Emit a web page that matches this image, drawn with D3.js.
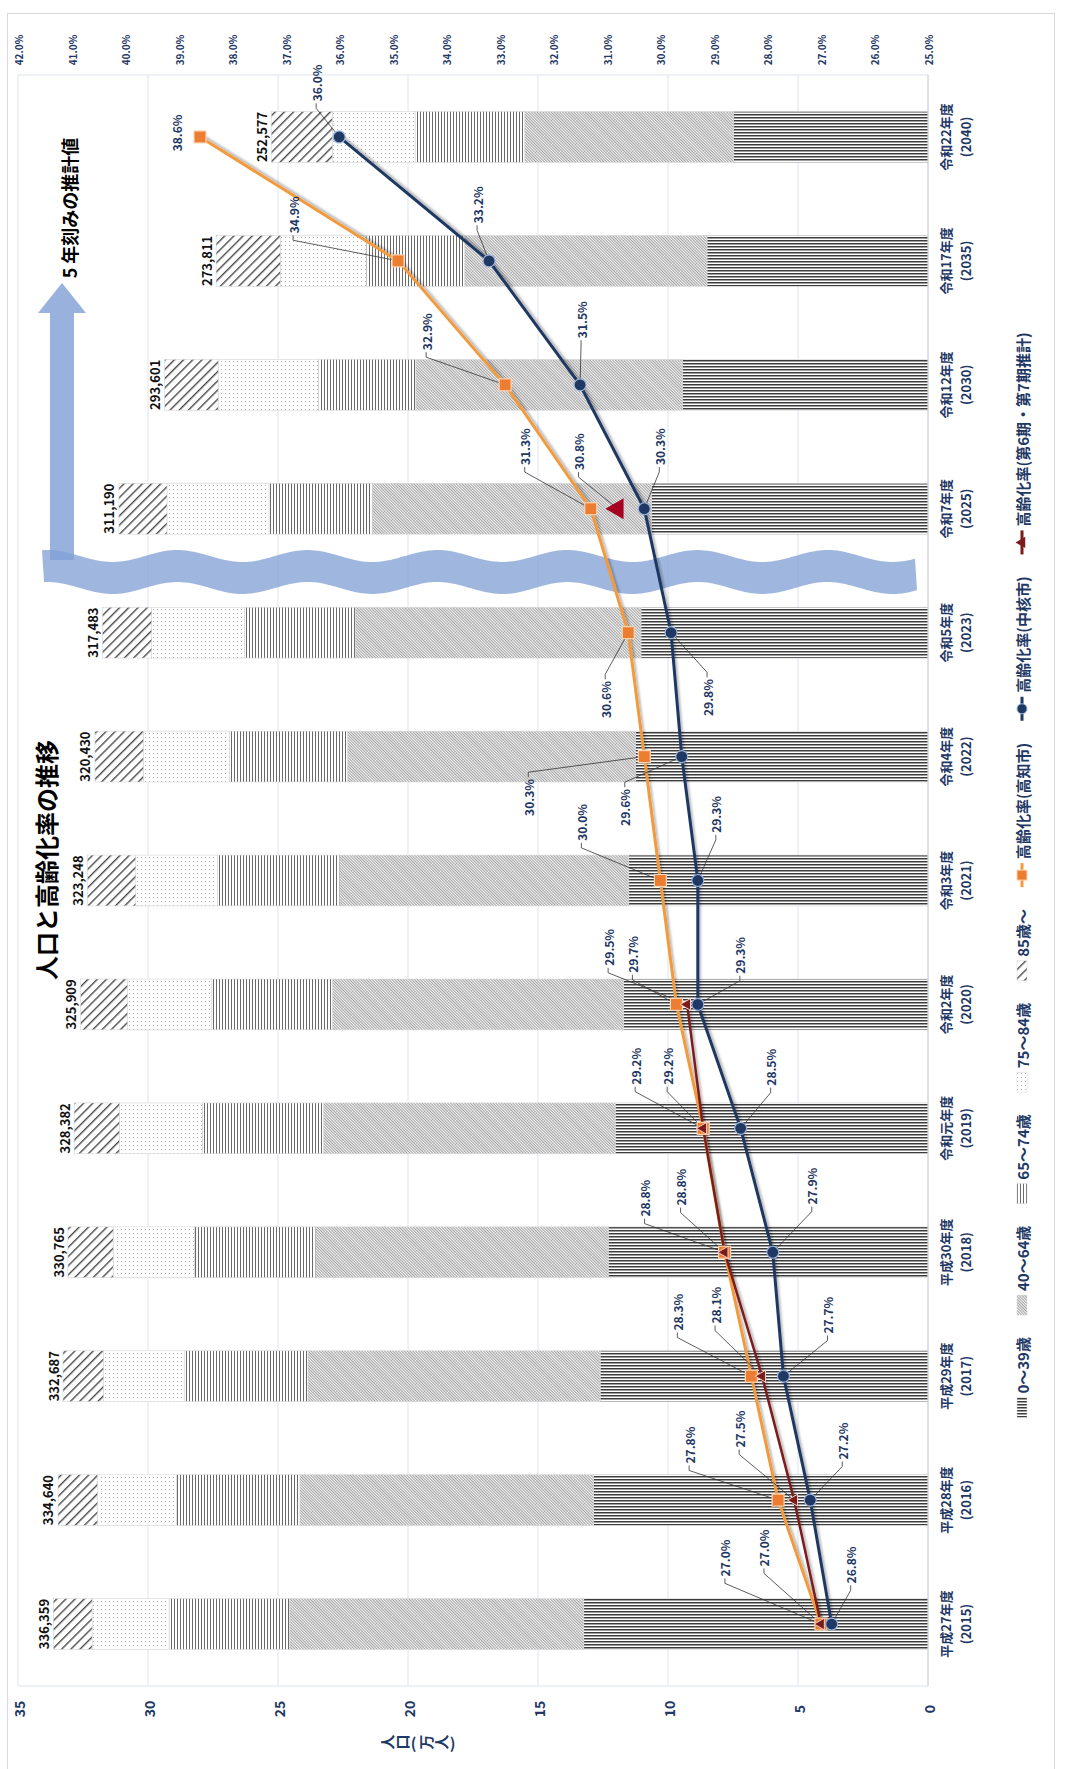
<!DOCTYPE html>
<html>
<head>
<meta charset="utf-8">
<script src="https://cdn.jsdelivr.net/npm/d3@7"></script>
<style>
  body { margin: 0; background: #fff; }
  svg { display: block; }
  text { font-family: "Noto Sans CJK JP", "Noto Sans", sans-serif; }
</style>
</head>
<body>
<div id="chart"></div>
<script>
// ---- data (population in 万人, rates in %) ----
const years = ["2015","2016","2017","2018","2019","2020","2021","2022","2023","2025","2030","2035","2040"];
const eraLabels = ["平成27年度","平成28年度","平成29年度","平成30年度","令和元年度","令和2年度","令和3年度","令和4年度","令和5年度","令和7年度","令和12年度","令和17年度","令和22年度"];
const totals = [336359,334640,332687,330765,328382,325909,323248,320430,317483,311190,293601,273811,252577];
const age0to39  = [13.24,12.87,12.61,12.30,12.03,11.71,11.51,11.25,11.04,10.64,9.44,8.50,7.48];
const age40to64 = [11.32,11.29,11.24,11.25,11.22,11.20,11.12,11.08,10.99,10.74,10.26,9.32,8.03];
const age65to74 = [4.63,4.74,4.76,4.67,4.66,4.66,4.70,4.54,4.26,3.97,3.75,3.79,4.22];
const age75to84 = [2.96,3.04,3.10,3.12,3.19,3.22,3.14,3.31,3.57,3.92,3.85,3.30,3.18];
const age85plus = [1.49,1.52,1.56,1.74,1.74,1.80,1.86,1.86,1.89,1.85,2.06,2.47,2.35];
const rateKochi = [27.0,27.8,28.3,28.8,29.2,29.7,30.0,30.3,30.6,31.3,32.9,34.9,38.6];
const rateCore  = [26.8,27.2,27.7,27.9,28.5,29.3,29.3,29.6,29.8,30.3,31.5,33.2,36.0];
const rateEst   = [27.0,27.5,28.1,28.8,29.2,29.5,null,null,null,30.8,null,null,null];
const popTicks  = [0,5,10,15,20,25,30,35];
const rateTicks = [25,26,27,28,29,30,31,32,33,34,35,36,37,38,39,40,41,42];

// label placement (offset from the point, screen px)
const kochiLabelPos = [[-96,-66],[-89,-55],[-74,-64],[-80,-54],[-68,-62],[-44,-50],[-79,-58],[-116,41],[-23,67],[-66,-62],[-79,-53],[-105,-46],[-24,-4,false]];
const coreLabelPos  = [[19,-59],[32,-59],[44,-61],[39,-66],[30,-61],[42,-49],[18,-66],[-57,51],[36,65],[15,-62],[1,-65],[-12,-56],[-23,-54]];
const estLabelPos   = [[-57,-76],[-55,-71],[-47,-71],[-44,-65],[-36,-62],[-79,-57],null,null,null,[-39,-57],null,null,null];

const width = 1065, height = 1769;
const plot = {left: 18, right: 928, top: 75, bottom: 1686};
const navy = "#1F3864";

const svg = d3.select("#chart").append("svg")
  .attr("width", width).attr("height", height);

// patterns (screen orientation)
const defs = svg.append("defs");
function linePattern(id, size, thick, color, angle, bg) {
  const p = defs.append("pattern").attr("id", id)
    .attr("patternUnits", "userSpaceOnUse")
    .attr("width", size).attr("height", size)
    .attr("patternTransform", `rotate(${angle})`);
  p.append("rect").attr("width", size).attr("height", size).attr("fill", bg || "#fff");
  p.append("rect").attr("width", thick).attr("height", size).attr("fill", color);
}
linePattern("p0", 3, 1.5, "#3c3c3c", 90);            // 0~39 horizontal lines
linePattern("p1", 2, 0.9, "#9c9c9c", -45, "#f2f2f2"); // 40~64 fine diagonal
linePattern("p2", 3, 1, "#6a6a6a", 0);              // 65~74 vertical lines
linePattern("p4", 6.5, 1.4, "#4a4a4a", 45);          // 85~ hatch
const dots = defs.append("pattern").attr("id", "p3")
  .attr("patternUnits", "userSpaceOnUse").attr("width", 4).attr("height", 4);
dots.append("rect").attr("width", 4).attr("height", 4).attr("fill", "#fff");
dots.append("rect").attr("x", 1).attr("y", 1).attr("width", 1).attr("height", 1).attr("fill", "#b0b0b0");

defs.append("filter").attr("id", "sh")
  .attr("x", "-5%").attr("y", "-5%").attr("width", "110%").attr("height", "110%")
  .append("feDropShadow").attr("dx", 1.5).attr("dy", -1.5).attr("stdDeviation", 1)
  .attr("flood-color", "#000").attr("flood-opacity", 0.3);

// frame
svg.append("rect").attr("x", 7.5).attr("y", 13.5).attr("width", 1047).attr("height", 1770)
  .attr("fill", "none").attr("stroke", "#d9d9d9");

// scales
const y = d3.scaleBand().domain(years).range([plot.bottom, plot.top])
  .paddingInner(0.59).paddingOuter(0.295);
const xPop = d3.scaleLinear().domain([0, 35]).range([plot.right, plot.left]);
const xRate = d3.scaleLinear().domain([25, 42]).range([plot.right, plot.left]);
const cy = d => y(d) + y.bandwidth() / 2;

function rot(sel, x, yy) {
  return sel.attr("transform", `translate(${x},${yy}) rotate(-90)`)
    .attr("text-anchor", "middle").attr("dominant-baseline", "central");
}

// gridlines
svg.append("g").selectAll("line").data(popTicks).join("line")
  .attr("x1", d => xPop(d)).attr("x2", d => xPop(d))
  .attr("y1", plot.top).attr("y2", plot.bottom)
  .attr("stroke", "#dde3ee").attr("stroke-width", 1);
svg.append("g").selectAll("line").data([plot.top, plot.bottom]).join("line")
  .attr("x1", plot.left).attr("x2", plot.right).attr("y1", d => d).attr("y2", d => d)
  .attr("stroke", "#dde3ee");

// stacked bars
const rows = years.map((yr, i) => ({year: yr, a0: age0to39[i], a1: age40to64[i], a2: age65to74[i], a3: age75to84[i], a4: age85plus[i]}));
const keys = ["a0","a1","a2","a3","a4"];
const fills = {a0: "url(#p0)", a1: "url(#p1)", a2: "url(#p2)", a3: "url(#p3)", a4: "url(#p4)"};
const stacked = d3.stack().keys(keys)(rows);
svg.append("g").selectAll("g").data(stacked).join("g")
  .attr("fill", d => fills[d.key])
  .selectAll("rect").data(d => d).join("rect")
  .attr("x", d => xPop(d[1]))
  .attr("width", d => xPop(d[0]) - xPop(d[1]))
  .attr("y", d => y(d.data.year))
  .attr("height", y.bandwidth())
  .attr("stroke", "#d6d6d6").attr("stroke-width", 0.6);

// category axis line
svg.append("line").attr("x1", plot.right).attr("x2", plot.right)
  .attr("y1", plot.top).attr("y2", plot.bottom).attr("stroke", "#d0d0d0");

// totals
svg.append("g").selectAll("text").data(totals).join("text")
  .each(function(d, i) { rot(d3.select(this), xPop(d / 10000) - 10, cy(years[i])); })
  .attr("font-size", 13).attr("font-weight", "bold").attr("fill", "#111")
  .text(d => d3.format(",")(d));

// wave + arrow
const wave = [];
const wTop = 556, wBot = 588, amp = 6, per = 130, x0 = 80;
for (let x = 42; x <= 917; x += 3) wave.push([x, wTop + amp * Math.sin((x - x0) / per * 2 * Math.PI)]);
const waveBack = [];
for (let x = 917; x >= 42; x -= 3) waveBack.push([x, wBot + amp * Math.sin((x - x0) / per * 2 * Math.PI)]);
svg.append("path").attr("d", d3.line()(wave.concat(waveBack)) + "Z")
  .attr("fill", "#7f9fd4").attr("opacity", 0.75);
svg.append("path")
  .attr("d", "M50,560 L50,313 L38,313 L62,283 L86,313 L74,313 L74,560 Z")
  .attr("fill", "#7f9fd4").attr("opacity", 0.8);

// lines
const ptsKochi = years.map((yr, i) => [xRate(rateKochi[i]), cy(yr)]);
const ptsCore = years.map((yr, i) => [xRate(rateCore[i]), cy(yr)]);
const ptsEst = years.map((yr, i) => rateEst[i] == null ? null : [xRate(rateEst[i]), cy(yr)]);
const line = d3.line().defined(d => d != null);

// leader lines + labels
const labelLayer = svg.append("g");
function addLabels(pts, vals, pos) {
  pts.forEach((p, i) => {
    if (!p || !pos[i]) return;
    const [dx, dy, leader] = pos[i];
    const lx = p[0] + dx, ly = p[1] + dy;
    const t = rot(labelLayer.append("text"), lx, ly)
      .attr("font-size", 12).attr("fill", navy).attr("font-weight", "bold")
      .text(vals[i].toFixed(1) + "%");
    if (leader === false) return;
    const h = t.node().getComputedTextLength() / 2;
    const s = dy < 0 ? 1 : -1;
    const e1 = ly + s * (h + 2), e2 = ly + s * (h + 7);
    labelLayer.insert("path", "text")
      .attr("d", `M${lx},${e1}L${lx},${e2}L${p[0]},${p[1]}`)
      .attr("fill", "none").attr("stroke", "#333").attr("stroke-width", 0.8);
  });
}

svg.append("path").attr("d", line(ptsKochi)).attr("fill", "none")
  .attr("stroke", "#f39a3d").attr("stroke-width", 3).attr("filter", "url(#sh)");
svg.append("path").attr("d", line(ptsCore)).attr("fill", "none")
  .attr("stroke", navy).attr("stroke-width", 3).attr("filter", "url(#sh)");
svg.append("path").attr("d", line(ptsEst.slice(0, 6))).attr("fill", "none")
  .attr("stroke", "#7b1c1c").attr("stroke-width", 2.5).attr("filter", "url(#sh)");

labelLayer.raise();
addLabels(ptsKochi, rateKochi, kochiLabelPos);
addLabels(ptsCore, rateCore, coreLabelPos);
addLabels(ptsEst, rateEst, estLabelPos);

// markers
svg.append("g").selectAll("rect").data(ptsKochi).join("rect")
  .attr("x", d => d[0] - 6).attr("y", d => d[1] - 6).attr("width", 12).attr("height", 12)
  .attr("fill", "#ed7d31").attr("stroke", "#fbd5b5").attr("stroke-width", 1.2);
svg.append("g").selectAll("circle").data(ptsCore).join("circle")
  .attr("cx", d => d[0]).attr("cy", d => d[1]).attr("r", 6)
  .attr("fill", navy).attr("stroke", "#9db4da").attr("stroke-width", 1.2);
svg.append("g").selectAll("path").data(ptsEst.map((p, i) => p ? {p, i} : null).filter(d => d)).join("path")
  .attr("transform", d => `translate(${d.p[0]},${d.p[1]}) rotate(-90)`)
  .attr("d", d => d3.symbol(d3.symbolTriangle, d.i === 9 ? 190 : 60)())
  .attr("fill", d => d.i === 9 ? "#a50021" : "#7b1c1c")
  .attr("stroke", d => d.i === 9 ? "none" : "#f6d2c4").attr("stroke-width", 1);

// population axis (bottom of screen)
const ax = svg.append("g").attr("transform", `translate(0,${plot.bottom})`)
  .call(d3.axisBottom(xPop).tickValues(popTicks).tickSize(0));
ax.select(".domain").remove();
ax.selectAll("text").attr("x", null).attr("y", null).attr("dy", null)
  .each(function() { rot(d3.select(this), 0, 23); })
  .attr("font-size", 14).attr("font-weight", "bold").attr("fill", navy)
  .attr("font-family", "\"Noto Sans CJK JP\", sans-serif");

// rate axis (top of screen)
const ar = svg.append("g").attr("transform", `translate(0,${plot.top})`)
  .call(d3.axisTop(xRate).tickValues(rateTicks).tickSize(0).tickFormat(d => d.toFixed(1) + "%"));
ar.select(".domain").remove();
ar.selectAll("text").attr("x", null).attr("y", null).attr("dy", null)
  .each(function() { rot(d3.select(this), 0, -25); })
  .attr("font-size", 10).attr("font-weight", "bold").attr("fill", navy)
  .attr("font-family", "\"Noto Sans CJK JP\", sans-serif");

// category axis (right of screen)
const ac = svg.append("g").attr("transform", `translate(${plot.right},0)`)
  .call(d3.axisRight(y).tickSize(0).tickFormat(""));
ac.select(".domain").remove();
ac.selectAll(".tick").each(function(d, i) {
  const g = d3.select(this);
  rot(g.append("text"), 17, 0).text(eraLabels[i])
    .attr("font-size", 13).attr("font-weight", "bold").attr("fill", navy);
  rot(g.append("text"), 37, 0).text("(" + years[i] + ")")
    .attr("font-size", 13).attr("font-weight", "bold").attr("fill", navy);
});

// population axis title (stacked vertical characters)
const titleChars = ["人","口","(","万","人",")"];
const charW = [15, 15, 9, 15, 15, 9];
let tx = 418 - d3.sum(charW) / 2;
titleChars.forEach((c, i) => {
  const cx = tx + charW[i] / 2;
  const t = svg.append("text").attr("font-size", 15).attr("font-weight", "bold").attr("fill", navy)
    .attr("text-anchor", "middle").attr("dominant-baseline", "central").text(c);
  if (c === "(" || c === ")") t.attr("x", cx).attr("y", 1742);
  else t.attr("transform", `translate(${cx},1742) rotate(-90)`);
  tx += charW[i];
});

// titles
rot(svg.append("text"), 45, 860).text("人口と高齢化率の推移")
  .attr("font-size", 24).attr("font-weight", "bold").attr("fill", "#000");
rot(svg.append("text"), 69, 208).text("5 年刻みの推計値")
  .attr("font-size", 18).attr("font-weight", "bold").attr("fill", "#000");

// legend (reads bottom to top)
const legendItems = [
  {label: "0～39歳", kind: "bar", fill: "url(#p0)"},
  {label: "40～64歳", kind: "bar", fill: "url(#p1)"},
  {label: "65～74歳", kind: "bar", fill: "url(#p2)"},
  {label: "75～84歳", kind: "bar", fill: "url(#p3)"},
  {label: "85歳～", kind: "bar", fill: "url(#p4)"},
  {label: "高齢化率(高知市)", kind: "kochi"},
  {label: "高齢化率(中核市)", kind: "core"},
  {label: "高齢化率(第6期・第7期推計)", kind: "est"}
];
const lx = 1022, keyGap = 4, itemGap = 22;
const lg = svg.append("g");
const measured = legendItems.map(it => {
  const t = lg.append("text").attr("font-size", 15).attr("font-weight", "bold").attr("fill", navy)
    .text(it.label);
  return {it, t, len: t.node().getComputedTextLength(), key: it.kind === "bar" ? 20 : 24};
});
const totalLen = d3.sum(measured, m => m.key + keyGap + m.len) + itemGap * (measured.length - 1);
let ly = 875 + totalLen / 2;
measured.forEach(m => {
  const kc = ly - m.key / 2;
  if (m.it.kind === "bar") {
    lg.append("rect").attr("x", lx - 5).attr("y", ly - m.key).attr("width", 10).attr("height", m.key)
      .attr("fill", m.it.fill).attr("stroke", "#d6d6d6").attr("stroke-width", 0.5);
  } else {
    const col = m.it.kind === "kochi" ? "#f39a3d" : m.it.kind === "core" ? navy : "#7b1c1c";
    lg.append("line").attr("x1", lx).attr("x2", lx).attr("y1", ly).attr("y2", ly - m.key)
      .attr("stroke", col).attr("stroke-width", 3);
    if (m.it.kind === "kochi") lg.append("rect").attr("x", lx - 5).attr("y", kc - 5).attr("width", 10).attr("height", 10)
      .attr("fill", "#ed7d31").attr("stroke", "#fbd5b5");
    if (m.it.kind === "core") lg.append("circle").attr("cx", lx).attr("cy", kc).attr("r", 5)
      .attr("fill", navy).attr("stroke", "#9db4da");
    if (m.it.kind === "est") lg.append("path").attr("transform", `translate(${lx},${kc}) rotate(-90)`)
      .attr("d", d3.symbol(d3.symbolTriangle, 55)()).attr("fill", "#7b1c1c");
  }
  const textC = ly - m.key - keyGap - m.len / 2;
  rot(m.t, lx, textC);
  ly -= m.key + keyGap + m.len + itemGap;
});
</script>
</body>
</html>
